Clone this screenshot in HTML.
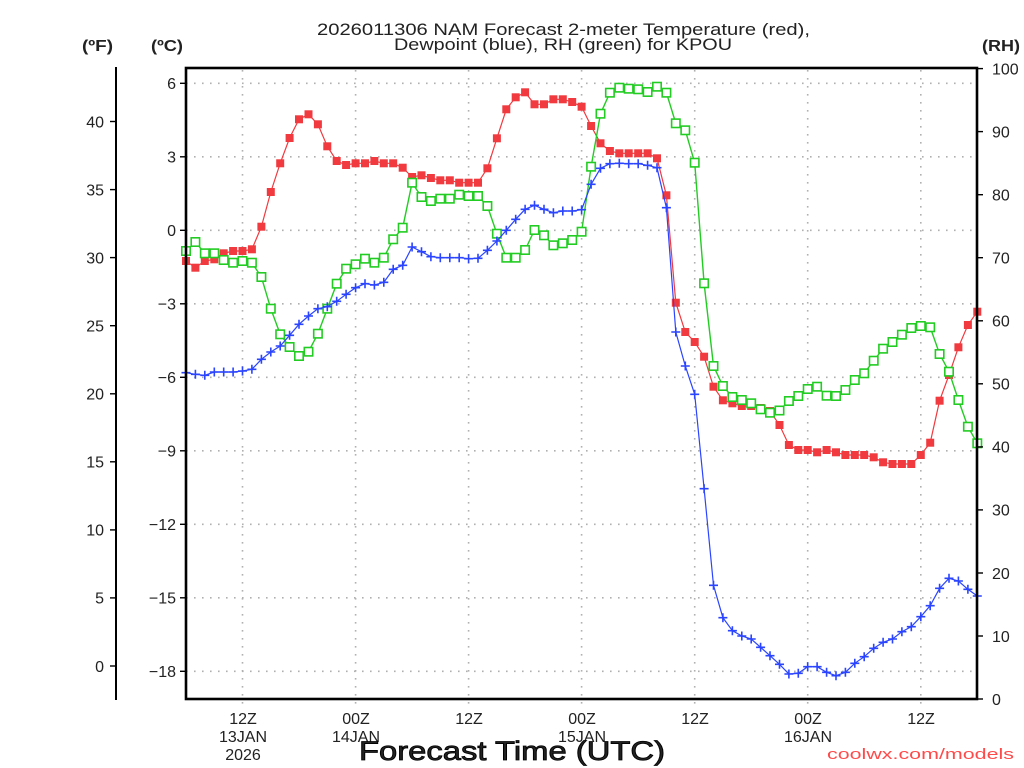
<!DOCTYPE html>
<html><head><meta charset="utf-8"><style>
html,body{margin:0;padding:0;background:#fff;}
svg{display:block;}
text{font-family:"Liberation Sans",sans-serif;fill:#222;}
</style></head><body>
<svg width="1024" height="768" viewBox="0 0 1024 768" xmlns="http://www.w3.org/2000/svg">
<defs>
<marker id="mr" markerUnits="userSpaceOnUse" markerWidth="10" markerHeight="10" refX="5" refY="5" overflow="visible"><rect x="1" y="1" width="8" height="8" fill="#f03a3f"/></marker>
<marker id="mg" markerUnits="userSpaceOnUse" markerWidth="12" markerHeight="12" refX="6" refY="6" overflow="visible"><rect x="1.8" y="1.8" width="8.4" height="8.4" fill="#fff" stroke="#22cc22" stroke-width="1.6"/></marker>
<marker id="mb" markerUnits="userSpaceOnUse" markerWidth="12" markerHeight="12" refX="6" refY="6" overflow="visible"><path d="M1.5 6H10.5M6 1.5V10.5" stroke="#2a44ff" stroke-width="1.6"/></marker>
</defs>
<rect width="1024" height="768" fill="#fff"/>
<!-- grid -->
<g stroke="#b0b0b0" stroke-width="1.6" stroke-dasharray="1.6,6.4">
<line x1="186" y1="83.3" x2="977" y2="83.3"/>
<line x1="186" y1="156.8" x2="977" y2="156.8"/>
<line x1="186" y1="230.3" x2="977" y2="230.3"/>
<line x1="186" y1="303.8" x2="977" y2="303.8"/>
<line x1="186" y1="377.3" x2="977" y2="377.3"/>
<line x1="186" y1="450.8" x2="977" y2="450.8"/>
<line x1="186" y1="524.3" x2="977" y2="524.3"/>
<line x1="186" y1="597.8" x2="977" y2="597.8"/>
<line x1="186" y1="671.3" x2="977" y2="671.3"/>
<line x1="242.5" y1="70" x2="242.5" y2="706"/>
<line x1="355.6" y1="70" x2="355.6" y2="706"/>
<line x1="468.6" y1="70" x2="468.6" y2="706"/>
<line x1="581.6" y1="70" x2="581.6" y2="706"/>
<line x1="694.7" y1="70" x2="694.7" y2="706"/>
<line x1="807.7" y1="70" x2="807.7" y2="706"/>
<line x1="920.8" y1="70" x2="920.8" y2="706"/>
</g>
<!-- series -->
<polyline fill="none" stroke="#f03a3f" stroke-width="1.2" marker-start="url(#mr)" marker-mid="url(#mr)" marker-end="url(#mr)" points="186,261 195.4,267.7 204.8,261 214.3,259.3 223.7,253.3 233.1,251 242.5,251 251.9,249.3 261.4,226.7 270.8,192 280.2,163.3 289.6,138 299,119.3 308.5,114.3 317.9,124.3 327.3,146.3 336.7,161 346.1,165 355.6,163.3 365,163.3 374.4,161 383.8,163.3 393.2,163.3 402.7,167.7 412.1,177 421.5,175.3 430.9,178 440.3,180.3 449.8,180.3 459.2,182.7 468.6,182.7 478,182.7 487.4,168.3 496.9,138.3 506.3,109.3 515.7,97.3 525.1,92.3 534.5,104.3 544,104.3 553.4,99.3 562.8,99.3 572.2,102 581.6,106.7 591.1,126 600.5,143.3 609.9,151 619.3,153.3 628.7,153.3 638.2,153.3 647.6,153.3 657,158.3 666.4,195.3 675.8,302.7 685.3,332 694.7,342 704.1,356.7 713.5,386.7 722.9,400.3 732.4,403.3 741.8,406 751.2,406 760.6,408 770,411 779.5,425 788.9,445 798.3,450 807.7,450 817.1,452.3 826.6,450 836,452.3 845.4,455 854.8,455 864.2,455 873.7,457.3 883.1,462.3 892.5,464 901.9,464 911.3,464 920.8,455 930.2,442.7 939.6,400.7 949,375 958.4,347.3 967.9,325 977.3,311.7"/>
<polyline fill="none" stroke="#22cc22" stroke-width="1.4" marker-start="url(#mg)" marker-mid="url(#mg)" marker-end="url(#mg)" points="186,251 195.4,242 204.8,253.3 214.3,253.3 223.7,260 233.1,262.7 242.5,261 251.9,262.7 261.4,277 270.8,308.7 280.2,334.3 289.6,347 299,356 308.5,351.7 317.9,333.7 327.3,308.7 336.7,283.7 346.1,268.7 355.6,264.3 365,258.7 374.4,262.7 383.8,257.7 393.2,239.3 402.7,227.7 412.1,182.7 421.5,197 430.9,201 440.3,198.7 449.8,198.7 459.2,194.7 468.6,196 478,196 487.4,206 496.9,233.7 506.3,257.7 515.7,257.7 525.1,250 534.5,230 544,235.3 553.4,245.3 562.8,243.3 572.2,240 581.6,231.7 591.1,166.7 600.5,113.7 609.9,92.7 619.3,87.7 628.7,88.7 638.2,89.3 647.6,92 657,86.7 666.4,92.7 675.8,123.3 685.3,130.3 694.7,162.7 704.1,283.3 713.5,366 722.9,386 732.4,397 741.8,400 751.2,403.3 760.6,409.3 770,412.7 779.5,410.5 788.9,401 798.3,396 807.7,389 817.1,386.7 826.6,395.7 836,396 845.4,390 854.8,380 864.2,373.3 873.7,360.7 883.1,348.7 892.5,342 901.9,334.7 911.3,328 920.8,326 930.2,327.3 939.6,354 949,371.7 958.4,400 967.9,426.7 977.3,443.3"/>
<polyline fill="none" stroke="#2a44ff" stroke-width="1.2" marker-start="url(#mb)" marker-mid="url(#mb)" marker-end="url(#mb)" points="186,372.7 195.4,374.3 204.8,375.3 214.3,372 223.7,372 233.1,372 242.5,371 251.9,369.3 261.4,359.3 270.8,352 280.2,346 289.6,335.3 299,324.3 308.5,316 317.9,308.7 327.3,306.7 336.7,301.3 346.1,294.3 355.6,287.7 365,283.7 374.4,285 383.8,282.3 393.2,269.3 402.7,265.3 412.1,247 421.5,251.7 430.9,256.7 440.3,257.7 449.8,257.7 459.2,257.7 468.6,258.7 478,258.3 487.4,250.3 496.9,241 506.3,230.3 515.7,219.3 525.1,209.3 534.5,205.3 544,209.3 553.4,212.7 562.8,211 572.2,211 581.6,209.7 591.1,184.3 600.5,168.3 609.9,163.7 619.3,163.3 628.7,163.7 638.2,163.7 647.6,165.3 657,167.7 666.4,207.7 675.8,332 685.3,366 694.7,394.3 704.1,488.7 713.5,585.3 722.9,617.7 732.4,630.7 741.8,636 751.2,639 760.6,647.3 770,655.7 779.5,664.3 788.9,674 798.3,673.3 807.7,666.7 817.1,666.7 826.6,672.3 836,675.7 845.4,672.3 854.8,663.3 864.2,656.7 873.7,648.3 883.1,642.3 892.5,639 901.9,631.7 911.3,626.7 920.8,616.7 930.2,605.7 939.6,588.3 949,578.3 958.4,581 967.9,589.3 977.3,596"/>
<!-- frame -->
<rect x="186" y="68" width="791" height="631" fill="none" stroke="#000" stroke-width="2.6"/>
<line x1="116" y1="67" x2="116" y2="700" stroke="#000" stroke-width="2"/>
<!-- left C ticks -->
<g stroke="#000" stroke-width="1.4">
<line x1="180" y1="83.3" x2="186" y2="83.3"/><line x1="180" y1="156.8" x2="186" y2="156.8"/><line x1="180" y1="230.3" x2="186" y2="230.3"/><line x1="180" y1="303.8" x2="186" y2="303.8"/><line x1="180" y1="377.3" x2="186" y2="377.3"/><line x1="180" y1="450.8" x2="186" y2="450.8"/><line x1="180" y1="524.3" x2="186" y2="524.3"/><line x1="180" y1="597.8" x2="186" y2="597.8"/><line x1="180" y1="671.3" x2="186" y2="671.3"/>
<line x1="110" y1="121.5" x2="116" y2="121.5"/><line x1="110" y1="189.6" x2="116" y2="189.6"/><line x1="110" y1="257.6" x2="116" y2="257.6"/><line x1="110" y1="325.7" x2="116" y2="325.7"/><line x1="110" y1="393.8" x2="116" y2="393.8"/><line x1="110" y1="461.8" x2="116" y2="461.8"/><line x1="110" y1="529.9" x2="116" y2="529.9"/><line x1="110" y1="597.9" x2="116" y2="597.9"/><line x1="110" y1="666" x2="116" y2="666"/>
<line x1="977" y1="68.6" x2="983" y2="68.6"/><line x1="977" y1="131.6" x2="983" y2="131.6"/><line x1="977" y1="194.7" x2="983" y2="194.7"/><line x1="977" y1="257.7" x2="983" y2="257.7"/><line x1="977" y1="320.8" x2="983" y2="320.8"/><line x1="977" y1="383.8" x2="983" y2="383.8"/><line x1="977" y1="446.9" x2="983" y2="446.9"/><line x1="977" y1="509.9" x2="983" y2="509.9"/><line x1="977" y1="573" x2="983" y2="573"/><line x1="977" y1="636" x2="983" y2="636"/><line x1="977" y1="699" x2="983" y2="699"/>
</g>
<!-- C labels -->
<g font-size="16" text-anchor="end">
<text x="176" y="89">6</text>
<text x="176" y="162.5">3</text>
<text x="176" y="236">0</text>
<text x="176" y="309.5">−3</text>
<text x="176" y="383">−6</text>
<text x="176" y="456.5">−9</text>
<text x="176" y="530">−12</text>
<text x="176" y="603.5">−15</text>
<text x="176" y="677">−18</text>
</g>
<!-- F labels -->
<g font-size="16" text-anchor="end">
<text x="104" y="127.3">40</text>
<text x="104" y="195.4">35</text>
<text x="104" y="263.4">30</text>
<text x="104" y="331.5">25</text>
<text x="104" y="399.6">20</text>
<text x="104" y="467.6">15</text>
<text x="104" y="535.7">10</text>
<text x="104" y="603.7">5</text>
<text x="104" y="671.8">0</text>
</g>
<!-- RH labels -->
<g font-size="16" text-anchor="start">
<text x="992" y="74.4">100</text>
<text x="992" y="137.4">90</text>
<text x="992" y="200.5">80</text>
<text x="992" y="263.5">70</text>
<text x="992" y="326.6">60</text>
<text x="992" y="389.6">50</text>
<text x="992" y="452.7">40</text>
<text x="992" y="515.7">30</text>
<text x="992" y="578.8">20</text>
<text x="992" y="641.8">10</text>
<text x="992" y="704.8">0</text>
</g>
<!-- unit labels -->
<g font-size="16" font-weight="bold" fill="#000">
<text x="82" y="51" textLength="31" lengthAdjust="spacingAndGlyphs">(ºF)</text>
<text x="151" y="51" textLength="32" lengthAdjust="spacingAndGlyphs">(ºC)</text>
<text x="982" y="51" textLength="38" lengthAdjust="spacingAndGlyphs">(RH)</text>
</g>
<!-- title -->
<g font-size="17" text-anchor="start">
<text x="317" y="35" textLength="493" lengthAdjust="spacingAndGlyphs">2026011306 NAM Forecast 2-meter Temperature (red),</text>
<text x="394" y="50" textLength="338" lengthAdjust="spacingAndGlyphs">Dewpoint (blue), RH (green) for KPOU</text>
</g>
<!-- x labels -->
<g font-size="16" text-anchor="middle">
<text x="243" y="724">12Z</text>
<text x="243" y="742">13JAN</text>
<text x="243" y="760">2026</text>
<text x="356" y="724">00Z</text>
<text x="356" y="742">14JAN</text>
<text x="469" y="724">12Z</text>
<text x="582" y="724">00Z</text>
<text x="582" y="742">15JAN</text>
<text x="695" y="724">12Z</text>
<text x="808" y="724">00Z</text>
<text x="808" y="742">16JAN</text>
<text x="921" y="724">12Z</text>
</g>
<text x="359" y="760" font-size="27" fill="#000" stroke="#000" stroke-width="0.8" textLength="306" lengthAdjust="spacingAndGlyphs">Forecast Time (UTC)</text>
<text x="827" y="759" font-size="15" fill="#ff4a4a" style="fill:#ff4a4a" textLength="187" lengthAdjust="spacingAndGlyphs">coolwx.com/models</text>
</svg>
</body></html>
